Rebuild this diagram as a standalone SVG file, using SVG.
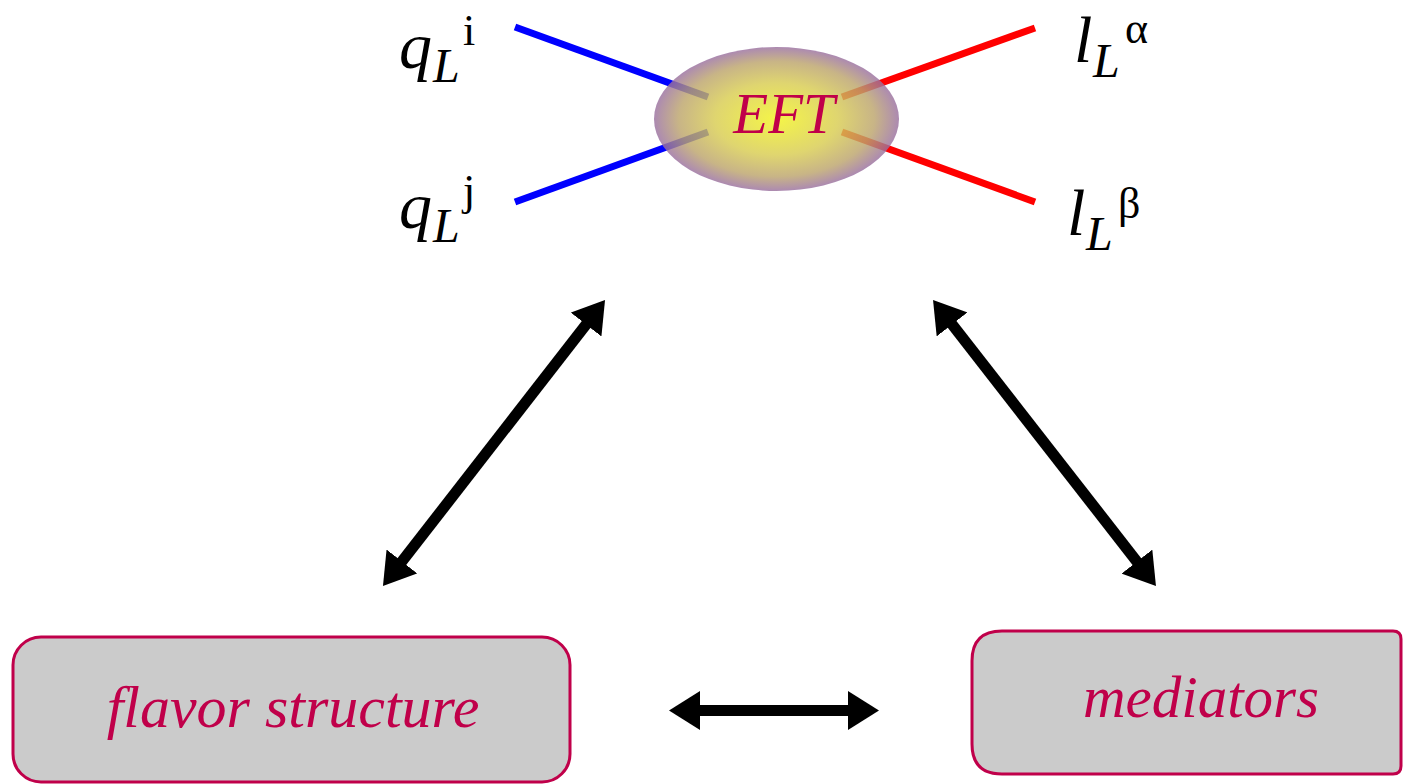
<svg xmlns="http://www.w3.org/2000/svg" width="1403" height="784" viewBox="0 0 1403 784">
<style>
.sym{font-family:'Liberation Serif',serif;fill:#000}
.it{font-style:italic}
.lbl{font-family:'Liberation Serif',serif;font-style:italic;fill:#C0004A;text-anchor:middle}
.box{fill:#CBCBCB;stroke:#C0004A;stroke-width:3}
.q{stroke:#0000FF;stroke-width:7;stroke-linecap:butt}
.l{stroke:#FF0000;stroke-width:7;stroke-linecap:butt}
.arr{stroke:#000;stroke-width:11;fill:none;marker-start:url(#ah);marker-end:url(#ah)}
</style>
<defs>
<marker id="ah" markerUnits="userSpaceOnUse" viewBox="0 0 31 39" markerWidth="31" markerHeight="39" refX="6" refY="19.5" orient="auto-start-reverse">
<path d="M0,0 L31,19.5 L0,39 Z" fill="#000"/>
</marker>
<radialGradient id="eg" cx="0.5" cy="0.5" r="0.5">
<stop offset="0" stop-color="#F2F220"/>
<stop offset="0.5" stop-color="#D8CC50"/>
<stop offset="0.8" stop-color="#BCA46C"/>
<stop offset="1" stop-color="#9A70A0"/>
</radialGradient>
</defs>
<rect width="1403" height="784" fill="#fff"/>
<g id="vertex">
<line class="q" x1="515" y1="27" x2="708" y2="97"/>
<line class="q" x1="515" y1="202" x2="708" y2="132"/>
<line class="l" x1="1035" y1="28" x2="842" y2="97"/>
<line class="l" x1="1035" y1="202" x2="842" y2="132"/>
<ellipse cx="776.5" cy="119" rx="122.5" ry="72" fill="url(#eg)" opacity="0.82"/>
<text class="lbl" x="784" y="133" font-size="57">EFT</text>
</g>
<g id="qLi">
<text class="sym"><tspan class="it" x="399" y="68" font-size="66">q</tspan><tspan class="it" x="433" y="82" font-size="48">L</tspan><tspan x="463" y="45" font-size="44">i</tspan></text>
</g>
<g id="qLj">
<text class="sym"><tspan class="it" x="399" y="228" font-size="66">q</tspan><tspan class="it" x="433" y="242" font-size="48">L</tspan><tspan x="463" y="205" font-size="44">j</tspan></text>
</g>
<g id="lLa">
<text class="sym"><tspan class="it" x="1074" y="62" font-size="66">l</tspan><tspan class="it" x="1093" y="77" font-size="48">L</tspan><tspan x="1125" y="43" font-size="44">α</tspan></text>
</g>
<g id="lLb">
<text class="sym"><tspan class="it" x="1067" y="235" font-size="66">l</tspan><tspan class="it" x="1086" y="250" font-size="48">L</tspan><tspan x="1118" y="218" font-size="44">β</tspan></text>
</g>
<g id="flavor">
<rect class="box" x="13" y="637" width="557" height="145" rx="28" ry="28"/>
<text class="lbl" x="293" y="727" font-size="60">flavor structure</text>
</g>
<g id="mediators">
<path class="box" d="M1002,631 H1393 Q1401,631 1401,639 V766 Q1401,774 1393,774 H1002 Q972,774 972,744 V661 Q972,631 1002,631 Z"/>
<text class="lbl" x="1201" y="717" font-size="59">mediators</text>
</g>
<g id="connectors">
<line class="arr" x1="398.3" y1="566.2" x2="589.7" y2="319.8"/>
<line class="arr" x1="948.4" y1="319.7" x2="1140.6" y2="566.3"/>
<line class="arr" x1="694" y1="710.5" x2="854" y2="710.5"/>
</g>
</svg>
